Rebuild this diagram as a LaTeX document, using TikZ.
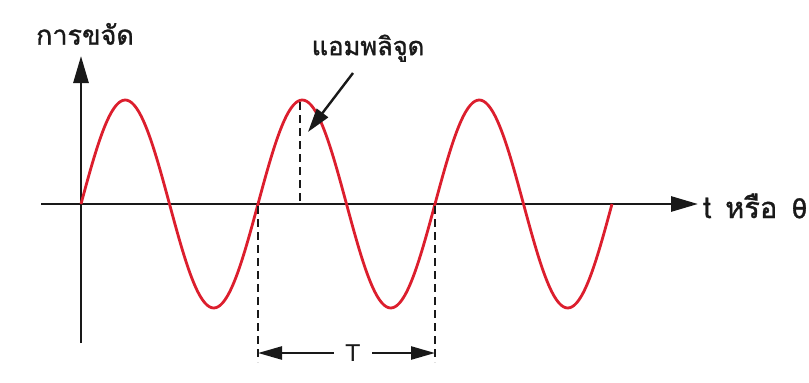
\documentclass[tikz,border=0pt]{standalone}
\usepackage{fontspec}
\setmainfont{DejaVu Sans}
\newfontfamily\thaifont[Script=Thai,FakeBold=1.2]{Loma}
\newfontfamily\symfont[FakeBold=1.2]{DejaVu Sans Mono}
\usetikzlibrary{arrows.meta}
\definecolor{wave}{RGB}{220,30,45}
\definecolor{ink}{RGB}{25,25,25}
\tikzset{
  axisline/.style={draw=ink, line width=2.8pt},
  bigtip/.style={-{Triangle[length=27pt,width=15pt]}},
  guide/.style={draw=ink, line width=1.3pt, dash pattern=on 8pt off 5pt},
  lbl/.style={inner sep=0pt, text=ink},
}
\begin{document}
\begin{tikzpicture}[x=1pt,y=-1pt]
\useasboundingbox[fill=white] (0,0) rectangle (809,383);
% axes
\coordinate (ybot) at (81,343);
\coordinate (ytop) at (81,56);
\coordinate (xleft) at (41,204);
\coordinate (xright) at (698,204);
\draw[axisline,bigtip] (ybot) -- (ytop);
\draw[axisline,bigtip] (xleft) -- (xright);
% labels
\node[lbl,anchor=south] (ylab) at (85,45) {\thaifont\fontsize{27}{30}\selectfont การขจัด};
\node[lbl,anchor=west] (xlab) at (703,206) {\thaifont\fontsize{29}{30}\selectfont t\kern 14pt หรือ\kern 14pt{\symfont\fontsize{27}{28}\selectfont θ}};
\node[lbl,anchor=south] (amp) at (368,62) {\thaifont\fontsize{25.5}{30}\selectfont แอมพลิจูด};
% sine wave
\draw[wave, line width=2.8pt, line join=round]
  plot[domain=0:1080, samples=241, smooth] ({81+\x/360*177},{204-104*sin(\x)});
% peak guide
\coordinate (pk) at (300,102);
\coordinate (pkb) at (300,204);
\draw[guide] (pk) -- (pkb);
% amplitude arrow
\coordinate (ampS) at (353,73);
\coordinate (ampE) at (308,132);
\draw[ink, line width=2.4pt, -{Triangle[length=24pt,width=14pt]}] (ampS) -- (ampE);
% period guides
\coordinate (p1t) at (258,206);
\coordinate (p1b) at (258,362);
\coordinate (p2t) at (435,206);
\coordinate (p2b) at (435,362);
\draw[guide] (p1t) -- (p1b);
\draw[guide] (p2t) -- (p2b);
\node[lbl] (T) at (353,353) {\fontsize{23}{24}\selectfont T};
\coordinate (a1) at (258,353);
\coordinate (a2) at (435,353);
\draw[ink, line width=2.4pt, -{Triangle[length=24pt,width=13pt]}] ([xshift=-12pt]T.west) -- (a1);
\draw[ink, line width=2.4pt, -{Triangle[length=24pt,width=13pt]}] ([xshift=12pt]T.east) -- (a2);
\end{tikzpicture}
\end{document}
